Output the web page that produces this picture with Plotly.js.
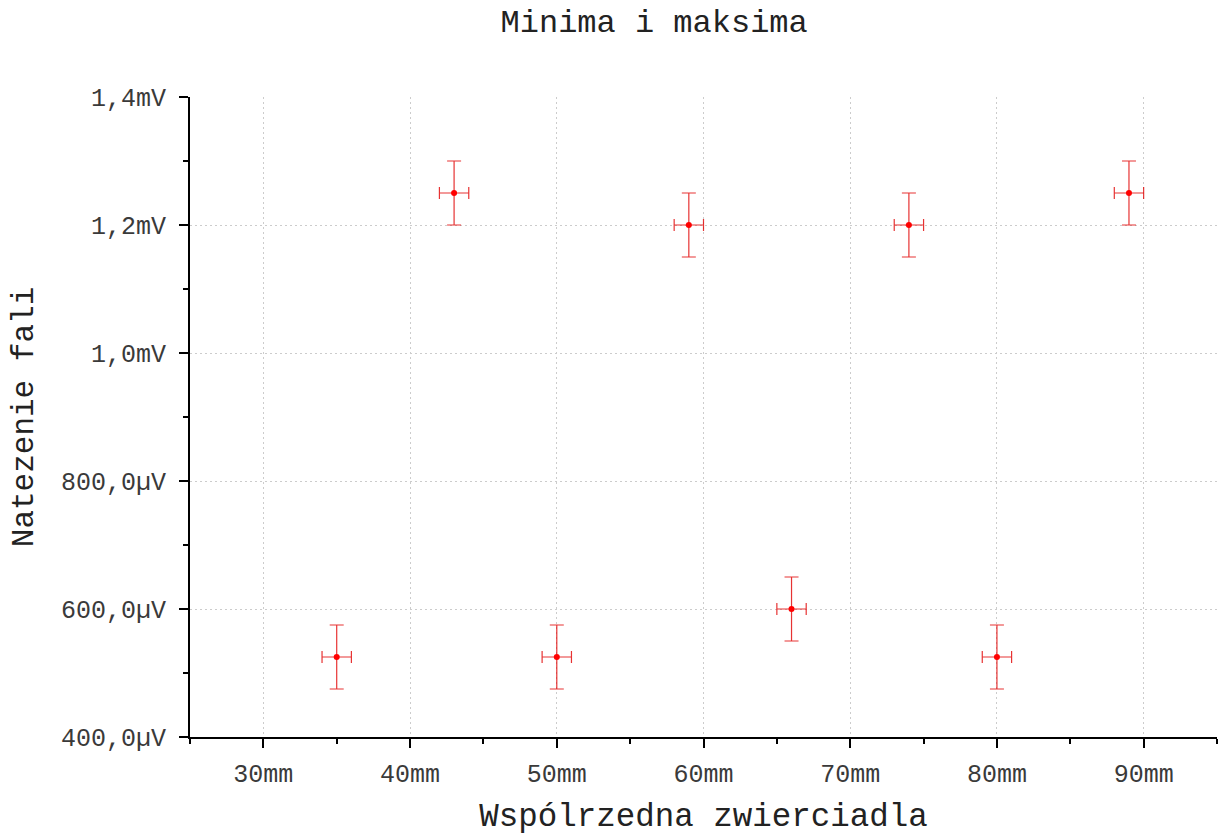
<!DOCTYPE html>
<html>
<head>
<meta charset="utf-8">
<script src="https://cdn.plot.ly/plotly-3.0.1.min.js"></script>
<style>html,body{margin:0;padding:0;background:#fff;}#chart{width:1225px;height:836px;}</style>
</head>
<body>
<div id="chart"></div>
<script>
// Data (x in mm, y in µV)
const positionsMm = [35, 43, 50, 59, 66, 74, 80, 89];
const intensityUV = [525, 1250, 525, 1200, 600, 1200, 525, 1250];
const errorXMm = [1, 1, 1, 1, 1, 1, 1, 1];
const errorYUV = [50, 50, 50, 50, 50, 50, 50, 50];
const yTickValues = [400, 600, 800, 1000, 1200, 1400];
const yTickLabels = ['400,0µV', '600,0µV', '800,0µV', '1,0mV', '1,2mV', '1,4mV'];
const xTickValues = [30, 40, 50, 60, 70, 80, 90];
const xTickLabels = ['30mm', '40mm', '50mm', '60mm', '70mm', '80mm', '90mm'];

const font = 'Liberation Mono, Courier New, monospace';

const trace = {
  type: 'scatter',
  mode: 'markers',
  x: positionsMm,
  y: intensityUV,
  marker: {color: '#ff0000', size: 6},
  error_x: {type: 'data', array: errorXMm, visible: true, color: 'rgba(225,0,0,0.8)', thickness: 1.2, width: 6},
  error_y: {type: 'data', array: errorYUV, visible: true, color: 'rgba(225,0,0,0.8)', thickness: 1.2, width: 7},
  showlegend: false,
  hoverinfo: 'x+y'
};

const layout = {
  width: 1225,
  height: 836,
  margin: {l: 190, r: 8, t: 97, b: 99},
  paper_bgcolor: '#fff',
  plot_bgcolor: '#fff',
  font: {family: font, color: '#222'},
  title: {text: 'Minima i maksima', x: 0.534, xanchor: 'center', y: 0.988, yanchor: 'top', font: {family: font, size: 32, color: '#222'}},
  xaxis: {
    range: [25, 95],
    tickmode: 'array',
    tickvals: xTickValues,
    ticktext: xTickLabels,
    ticks: 'outside', ticklen: 9, tickwidth: 2, tickcolor: '#000',
    ticklabelstandoff: 4,
    minor: {tickmode: 'linear', tick0: 25, dtick: 5, ticks: 'outside', ticklen: 5, tickwidth: 2, tickcolor: '#000', showgrid: false},
    showline: true, linecolor: '#000', linewidth: 2,
    showgrid: true, gridcolor: '#cccccc', griddash: '2px,3px', gridwidth: 1,
    zeroline: false,
    tickfont: {family: font, size: 25, color: '#3a3a3a'},
    title: {text: 'Wspólrzedna zwierciadla', font: {family: font, size: 32.5, color: '#222'}, standoff: 18}
  },
  yaxis: {
    range: [400, 1400],
    tickmode: 'array',
    tickvals: yTickValues,
    ticktext: yTickLabels,
    ticks: 'outside', ticklen: 9, tickwidth: 2, tickcolor: '#000',
    ticklabelstandoff: 8,
    minor: {tickmode: 'linear', tick0: 400, dtick: 100, ticks: 'outside', ticklen: 5, tickwidth: 2, tickcolor: '#000', showgrid: false},
    showline: true, linecolor: '#000', linewidth: 2,
    showgrid: true, gridcolor: '#cccccc', griddash: '2px,3px', gridwidth: 1,
    zeroline: false,
    tickfont: {family: font, size: 25, color: '#3a3a3a'},
    title: {text: 'Natezenie fali', font: {family: font, size: 31, color: '#222'}, standoff: 18}
  }
};

Plotly.newPlot('chart', [trace], layout, {displayModeBar: false, staticPlot: true});
</script>
</body>
</html>
